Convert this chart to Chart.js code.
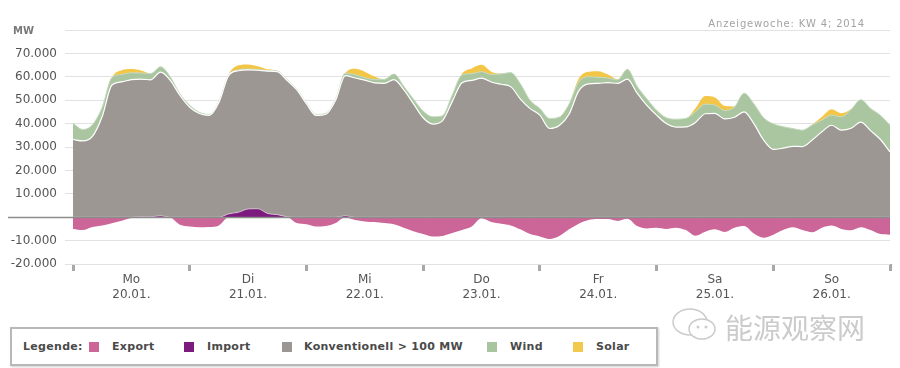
<!DOCTYPE html>
<html>
<head>
<meta charset="utf-8">
<script src="https://cdn.jsdelivr.net/npm/chart.js@4.4.1/dist/chart.umd.min.js"></script>
<style>
body { margin: 0; background: #fff; font-family: "DejaVu Sans", Verdana, sans-serif; }
#wrap { position: relative; width: 900px; height: 368px; overflow: hidden; }
#chart { position: absolute; left: 0; top: 0; }
#week { position: absolute; right: 35px; top: 18px; font-size: 10px; color: #a3a3a3; letter-spacing: 0.85px; }
#legend { position: absolute; left: 10px; top: 327px; width: 644px; height: 35px; border: 2px solid #b8b8b8;
  box-shadow: 1px 1px 2px #d0d0d0; font-size: 11px; font-weight: bold; color: #4a4a4a; }
#legend span { position: absolute; top: 11px; letter-spacing: 0.3px; }
#legend i { position: absolute; top: 13px; width: 10px; height: 10px; }
#mark { position: absolute; left: 725px; top: 307px; font-family: "Noto Sans CJK SC", sans-serif; font-size: 28px; color: #cbcbcb; }
#icon { position: absolute; left: 670px; top: 304px; }
</style>
</head>
<body>
<div id="wrap">
  <canvas id="chart" width="900" height="310"></canvas>
  <div id="week">Anzeigewoche: KW 4; 2014</div>
  <div id="legend">
    <span style="left:11px">Legende:</span>
    <i style="left:77px;background:#cc6699"></i><span style="left:100px">Export</span>
    <i style="left:172px;background:#7d1a7d"></i><span style="left:195px">Import</span>
    <i style="left:270px;background:#9b9693"></i><span style="left:292px">Konventionell &gt; 100 MW</span>
    <i style="left:475px;background:#a8c4a0"></i><span style="left:498px">Wind</span>
    <i style="left:561px;background:#f2c94c"></i><span style="left:584px">Solar</span>
  </div>
  <svg id="icon" width="50" height="40">
    <ellipse cx="20" cy="18" rx="17" ry="13" fill="#fff" stroke="#cbcbcb" stroke-width="1.5"/>
    <ellipse cx="32" cy="25" rx="13" ry="10" fill="#fff" stroke="#cbcbcb" stroke-width="1.5"/>
    <circle cx="28" cy="23" r="1.5" fill="#cbcbcb"/>
    <circle cx="36" cy="23" r="1.5" fill="#cbcbcb"/>
  </svg>
  <div id="mark">能源观察网</div>
</div>
<script>
// hours since Mo 20.01. 00:00, one value every 2 hours
const hours = Array.from({ length: 85 }, (_, i) => i * 2);

const dayNames = ['Mo', 'Di', 'Mi', 'Do', 'Fr', 'Sa', 'So'];
const dayDates = ['20.01.', '21.01.', '22.01.', '23.01.', '24.01.', '25.01.', '26.01.'];

const exportMW = [
  -5000, -5500, -4200, -3600, -2600, -1500, -300, 0, 0, 0, -200, -3200,
  -4000, -4300, -4200, -3500, 0, 0, 0, 0, 0, 0, 0, -2500,
  -3000, -4000, -3800, -2500, 0, -1200, -1800, -2100, -2500, -3000, -4500, -6000,
  -7200, -8300, -8000, -6800, -5500, -4000, -500, -2100, -2800, -3500, -5200, -7200,
  -8200, -9300, -8000, -5200, -2800, -1200, -800, -800, -1600, -700, -3800, -4800,
  -4500, -5000, -4500, -5500, -7900, -6200, -5200, -6300, -4500, -3800, -7000, -8800,
  -7500, -5500, -4300, -5500, -6400, -4500, -3600, -5000, -5600, -4300, -5500, -7200,
  -7500
];

const importMW = [
  0, 0, 0, 0, 0, 0, 0, 300, 200, 600, 0, 0,
  0, 0, 0, 0, 1400, 2100, 3500, 3600, 1600, 1100, 200, 0,
  0, 0, 0, 0, 600, 0, 0, 0, 0, 0, 0, 0,
  0, 0, 0, 0, 0, 0, 0, 0, 0, 0, 0, 0,
  0, 0, 0, 0, 0, 0, 0, 0, 0, 0, 0, 0,
  0, 0, 0, 0, 0, 0, 0, 0, 0, 0, 0, 0,
  0, 0, 0, 0, 0, 0, 0, 0, 0, 0, 0, 0,
  0
];

const konvMW = [
  33200, 32600, 34500, 43000, 56500, 57800, 58800, 58700, 58500, 61400, 58500, 52000,
  47000, 44300, 43500, 49000, 59100, 60500, 59500, 59200, 60800, 61100, 58300, 54500,
  48500, 43500, 44000, 50000, 59900, 59500, 58600, 57400, 57200, 58800, 54500, 48500,
  42500, 39800, 41300, 49500, 57500, 58500, 59400, 57800, 56800, 55800, 50500, 46400,
  43600, 37900, 39200, 44000, 54000, 57000, 57200, 57500, 57200, 59000, 53000, 47800,
  43600, 40000, 38500, 38600, 40500, 44200, 44400, 42000, 42700, 45000, 40000, 33000,
  29000, 29500, 30300, 30200, 33000, 36500, 39300, 37200, 38000, 40600, 37000, 33300,
  27900
];

const windMW = [
  6900, 4900, 5000, 4000, 3200, 3200, 2900, 2600, 2700, 2300, 1500, 600,
  800, 500, 400, 400, 300, 300, 300, 300, 300, 300, 300, 300,
  400, 400, 400, 500, 1000, 1400, 1000, 1500, 1700, 2400, 1500, 2000,
  2900, 3100, 2100, 2800, 3300, 2800, 2800, 3200, 4400, 6000, 6500, 3500,
  2900, 4300, 3600, 4300, 3800, 3000, 2600, 2000, 1500, 4200, 3000, 2800,
  2100, 2500, 3400, 3600, 4600, 4100, 3500, 3600, 4300, 8000, 8500, 9500,
  10900, 9200, 7600, 7000, 6400, 5000, 4300, 5700, 8000, 9600, 9500, 10300,
  11400
];

const solarMW = [
  0, 0, 0, 0, 0, 1800, 1600, 1100, 0, 0, 0, 0,
  0, 0, 0, 0, 300, 2000, 2000, 1400, 500, 0, 0, 0,
  0, 0, 0, 0, 0, 2500, 2600, 1200, 0, 0, 0, 0,
  0, 0, 0, 0, 600, 2300, 2900, 1200, 200, 0, 0, 0,
  0, 0, 0, 0, 1500, 2200, 2600, 1500, 300, 0, 0, 0,
  0, 0, 0, 0, 1500, 3500, 3300, 2000, 300, 0, 0, 0,
  0, 0, 0, 0, 200, 1400, 2500, 1500, 200, 0, 0, 0,
  0
];

function pts(values) {
  return values.map((v, i) => ({ x: hours[i], y: v }));
}

function fmt(v) {
  const s = Math.abs(v).toString().replace(/\B(?=(\d{3})+(?!\d))/g, '.');
  return (v < 0 ? '-' : '') + s;
}

const extras = {
  id: 'extras',
  afterDraw(chart) {
    const ctx = chart.ctx;
    const y = chart.scales.y;
    const y0 = Math.round(y.getPixelForValue(0)) + 0.5;
    ctx.save();
    ctx.strokeStyle = '#8c8c8c';
    ctx.lineWidth = 1.5;
    ctx.beginPath();
    ctx.moveTo(8, y0);
    ctx.lineTo(chart.chartArea.right, y0);
    ctx.stroke();
    ctx.fillStyle = '#7a7a7a';
    ctx.font = 'bold 10px "DejaVu Sans"';
    ctx.textBaseline = 'middle';
    ctx.fillText('MW', 13, y.getPixelForValue(80000) + 1);
    ctx.restore();
  }
};

const ctx = document.getElementById('chart').getContext('2d');
new Chart(ctx, {
  type: 'line',
  data: {
    datasets: [
      { label: 'Export', data: pts(exportMW), stack: 'neg', fill: 'origin',
        backgroundColor: '#cc6699', borderWidth: 0 },
      { label: 'Import', data: pts(importMW), stack: 'pos', fill: 'origin',
        backgroundColor: '#7d1a7d', borderColor: 'rgba(255,255,255,0.5)', borderWidth: 1 },
      { label: 'Konventionell > 100 MW', data: pts(konvMW), stack: 'pos', fill: '-1',
        backgroundColor: '#9d9794', borderColor: '#ffffff', borderWidth: 1.2 },
      { label: 'Wind', data: pts(windMW), stack: 'pos', fill: '-1',
        backgroundColor: '#a9c6a0', borderColor: '#c4d9bd', borderWidth: 1 },
      { label: 'Solar', data: pts(solarMW), stack: 'pos', fill: '-1',
        backgroundColor: '#f4c648', borderWidth: 0 }
    ]
  },
  options: {
    responsive: false,
    animation: false,
    elements: {
      point: { radius: 0 },
      line: { tension: 0.3, cubicInterpolationMode: 'monotone' }
    },
    layout: { padding: { left: 0, right: 10, top: 30, bottom: 0 } },
    plugins: { legend: { display: false }, tooltip: { enabled: false } },
    scales: {
      x: {
        type: 'linear',
        min: 0,
        max: 168,
        border: { display: false },
        grid: {
          drawOnChartArea: false,
          tickLength: 7,
          lineWidth: 3,
          color: c => (c.tick && c.tick.value % 24 === 0) ? '#a8a8a8' : 'rgba(0,0,0,0)'
        },
        ticks: {
          stepSize: 12,
          autoSkip: false,
          maxRotation: 0,
          padding: 2,
          color: '#555',
          font: { family: 'DejaVu Sans', size: 12 },
          callback: v => (v % 24 === 12) ? [dayNames[(v - 12) / 24], dayDates[(v - 12) / 24]] : ''
        },
        afterFit: s => { s.height = 46; s.paddingLeft = 0; s.paddingRight = 0; }
      },
      y: {
        stacked: true,
        min: -20000,
        max: 80000,
        border: { display: false },
        grid: {
          tickLength: 8,
          color: c => (c.tick && c.tick.value === 0) ? 'rgba(0,0,0,0)' : '#e2e2e2'
        },
        ticks: {
          stepSize: 10000,
          padding: 8,
          color: '#555',
          font: { family: 'DejaVu Sans', size: 12 },
          callback: v => (v === 0 || v === 80000) ? '' : fmt(v)
        },
        afterFit: s => { s.width = 73; s.paddingTop = 0; s.paddingBottom = 0; }
      }
    }
  },
  plugins: [extras]
});
</script>
</body>
</html>
